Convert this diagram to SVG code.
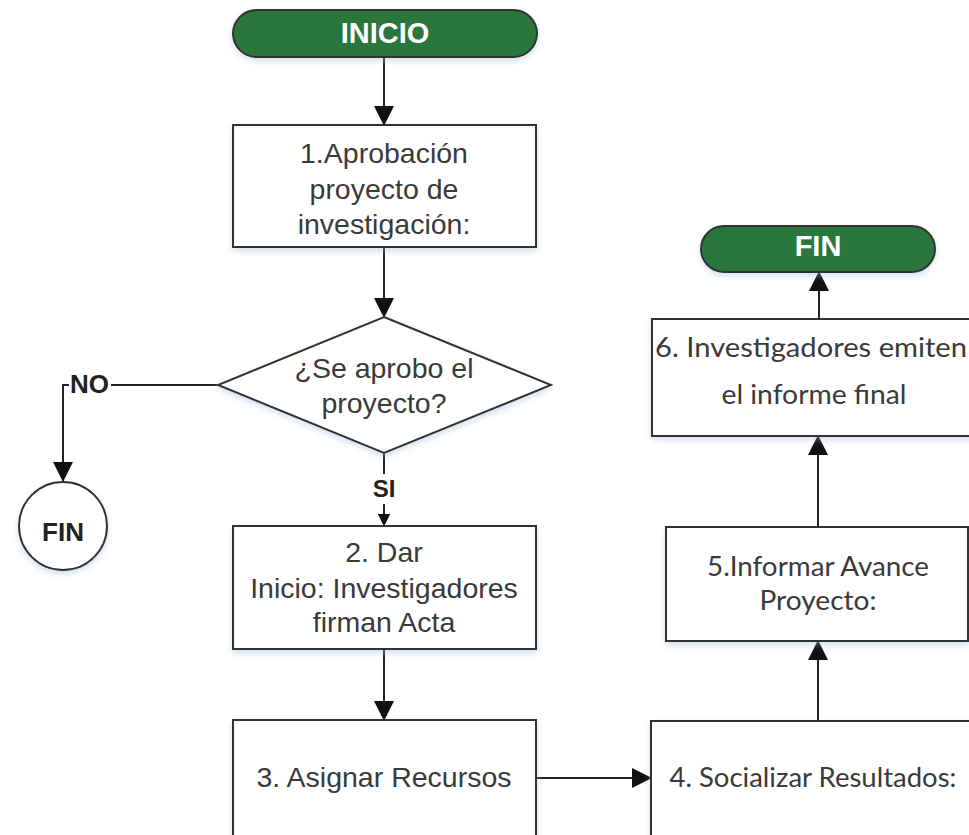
<svg xmlns="http://www.w3.org/2000/svg" width="969" height="835" viewBox="0 0 969 835">
  <defs>
    <filter id="sh" x="-10%" y="-10%" width="120%" height="130%">
      <feDropShadow dx="0" dy="3" stdDeviation="3" flood-color="#9fb8d8" flood-opacity="0.45"/>
    </filter>
    <marker id="arr" viewBox="0 0 20 20" refX="19" refY="10" markerWidth="20" markerHeight="20" markerUnits="userSpaceOnUse" orient="auto">
      <path d="M0,0 L20,10 L0,20 Z" fill="#111"/>
    </marker>
    <marker id="arrS" viewBox="0 0 13 13" refX="12.5" refY="6.5" markerWidth="13" markerHeight="13" markerUnits="userSpaceOnUse" orient="auto">
      <path d="M0,0 L13,6.5 L0,13 Z" fill="#111"/>
    </marker>
  </defs>
  <style>
    .box { fill: #fff; stroke: #333; stroke-width: 2; filter: url(#sh); }
    .term { fill: #2a773c; stroke: #333; stroke-width: 2; filter: url(#sh); }
    .t { font-family: "Liberation Sans", Arial, sans-serif; font-size: 28.5px; fill: #3a3a3a; text-anchor: middle; }
    .c { font-family: Lato, "Liberation Sans", sans-serif; font-size: 27px; fill: #3a3a3a; text-anchor: middle; }
    .tw { font-family: "Liberation Sans", Arial, sans-serif; font-size: 29px; font-weight: bold; fill: #fff; text-anchor: middle; }
    .lb { font-family: "Liberation Sans", Arial, sans-serif; font-weight: bold; fill: #222; }
    .ln { fill: none; stroke: #222; stroke-width: 2; }
  </style>
  <rect width="969" height="835" fill="#fff"/>

  <g id="connectors">
    <line class="ln" x1="384" y1="57" x2="384" y2="125" marker-end="url(#arr)"/>
    <line class="ln" x1="384" y1="247" x2="384" y2="317" marker-end="url(#arr)"/>
    <path class="ln" d="M218,385 H63 V481" marker-end="url(#arr)"/>
    <path class="ln" d="M384,453 V526" marker-end="url(#arrS)"/>
    <line class="ln" x1="384" y1="649" x2="384" y2="720" marker-end="url(#arr)"/>
    <line class="ln" x1="536" y1="778" x2="651" y2="778" marker-end="url(#arr)"/>
    <line class="ln" x1="818" y1="721" x2="818" y2="641" marker-end="url(#arr)"/>
    <line class="ln" x1="818" y1="527" x2="818" y2="436" marker-end="url(#arr)"/>
    <line class="ln" x1="819" y1="319" x2="819" y2="272" marker-end="url(#arr)"/>
    <rect x="69" y="372" width="42" height="24" fill="#fff"/>
    <text class="lb" x="70" y="393" font-size="26">NO</text>
    <rect x="370" y="474" width="28" height="30" fill="#fff"/>
    <text class="lb" x="384" y="497" font-size="24" text-anchor="middle">SI</text>
  </g>

  <g id="inicio">
    <rect class="term" x="233" y="10" width="304" height="47" rx="23.5"/>
    <text class="tw" x="385" y="43">INICIO</text>
  </g>

  <g id="paso1">
    <rect class="box" x="233" y="125" width="303" height="122"/>
    <text class="t" x="384" y="163">1.Aprobación</text>
    <text class="t" x="384" y="199">proyecto de</text>
    <text class="t" x="384" y="234">investigación:</text>
  </g>

  <g id="decision">
    <polygon class="box" points="384,317 551,385 384,453 218,385"/>
    <text class="t" x="384" y="378">¿Se aprobo el</text>
    <text class="t" x="384" y="413">proyecto?</text>
  </g>

  <g id="fin-no">
    <circle class="box" cx="63" cy="526" r="44"/>
    <text class="lb" x="63" y="541" font-size="26" text-anchor="middle">FIN</text>
  </g>

  <g id="paso2">
    <rect class="box" x="233" y="526" width="303" height="123"/>
    <text class="t" x="384" y="562">2. Dar</text>
    <text class="t" x="384" y="598">Inicio: Investigadores</text>
    <text class="t" x="384" y="632">firman Acta</text>
  </g>

  <g id="paso3">
    <rect class="box" x="233" y="720" width="303" height="140"/>
    <text class="t" x="384" y="787">3. Asignar Recursos</text>
  </g>

  <g id="paso4">
    <rect class="box" x="651" y="721" width="330" height="140"/>
    <text class="c" x="813" y="787" textLength="287" lengthAdjust="spacingAndGlyphs">4. Socializar Resultados:</text>
  </g>

  <g id="paso5">
    <rect class="box" x="666" y="527" width="302" height="114"/>
    <text class="c" x="818" y="576" textLength="222" lengthAdjust="spacingAndGlyphs">5.Informar Avance</text>
    <text class="c" x="818" y="610" textLength="117" lengthAdjust="spacingAndGlyphs">Proyecto:</text>
  </g>

  <g id="paso6">
    <rect class="box" x="652" y="319" width="334" height="117"/>
    <text class="c" x="811" y="357" textLength="312" lengthAdjust="spacingAndGlyphs">6. Investigadores emiten</text>
    <text class="c" x="814" y="404" textLength="185" lengthAdjust="spacingAndGlyphs">el informe final</text>
  </g>

  <g id="fin">
    <rect class="term" x="701" y="226" width="234" height="46" rx="23"/>
    <text class="tw" x="818" y="256">FIN</text>
  </g>
</svg>
